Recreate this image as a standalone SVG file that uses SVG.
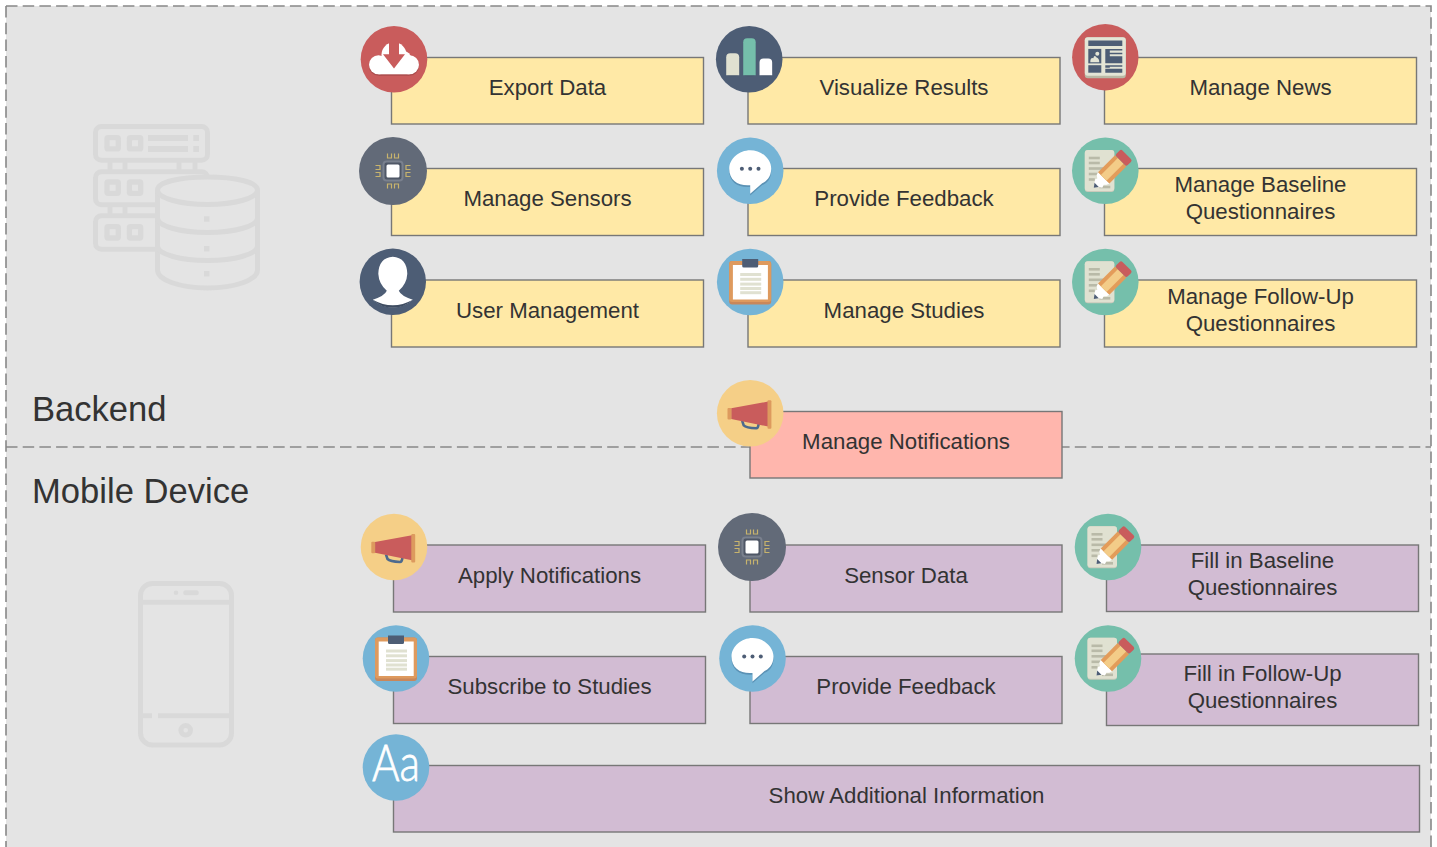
<svg xmlns="http://www.w3.org/2000/svg" xmlns:xlink="http://www.w3.org/1999/xlink" width="1437" height="847" viewBox="0 0 1437 847">
<style>
.box{stroke:#777;stroke-width:1.4}
.y{fill:#ffe9a6}.p{fill:#ffb6ad}.m{fill:#d2bcd3}
.t{font-family:"Liberation Sans",Arial,sans-serif;font-size:22.25px;fill:#333;text-anchor:middle}
.h{font-family:"Liberation Sans",Arial,sans-serif;font-size:34.6px;fill:#333}
.dash{fill:none;stroke:#888;stroke-width:1.6;stroke-dasharray:11.5 5.2}
.bg{fill:none;stroke:#d9d9d9;stroke-width:5;stroke-linejoin:round}
</style>
<defs>
<symbol id="i-cloud" overflow="visible" viewBox="-34 -34 68 68" width="68" height="68">
<circle r="33.3" fill="#c95c5c"/>
<g fill="#ab4d4d"><circle cx="-15.500" cy="7" r="9.500"/><circle cx="15.500" cy="7" r="9.500"/><rect x="-15" y="6" width="30" height="10.500"/></g>
<g fill="#fff"><circle cx="-15.500" cy="5.500" r="9.500"/><circle cx="15.500" cy="5.500" r="9.500"/><circle cx="0" cy="-4.500" r="12.500"/><circle cx="10" cy="-1" r="7"/><rect x="-15.500" y="0" width="31" height="15"/></g>
<path d="M-5 -19H5V-5H11L0 9.300L-11 -5H-5Z" fill="#c95c5c"/>
</symbol>
<symbol id="i-bars" overflow="visible" viewBox="-34 -34 68 68" width="68" height="68">
<circle r="33.3" fill="#4d5d75"/>
<rect x="-23" y="-6" width="13" height="23" rx="4" fill="#3f4d62" opacity=".6"/><rect x="-6" y="-20" width="12.500" height="37" rx="4" fill="#3f4d62" opacity=".6"/><rect x="10.500" y="0" width="13" height="17" rx="4" fill="#3f4d62" opacity=".6"/>
<path d="M-23 16V-2a4 4 0 0 1 4-4h5a4 4 0 0 1 4 4V16Z" fill="#e0e1d1"/>
<path d="M-6 16V-17a4 4 0 0 1 4-4h4.500a4 4 0 0 1 4 4V16Z" fill="#75bfab"/>
<path d="M10.300 16V3.300a4 4 0 0 1 4-4h4.700a4 4 0 0 1 4 4V16Z" fill="#fff"/>
</symbol>
<symbol id="i-news" overflow="visible" viewBox="-34 -34 68 68" width="68" height="68">
<circle r="33.2" fill="#c95c5c"/>
<rect x="-20.500" y="-20" width="41" height="41" rx="3" fill="#b9b9a6"/>
<rect x="-20.500" y="-20" width="41" height="38.500" rx="3" fill="#e4e5d6"/>
<rect x="-17" y="-16.700" width="34" height="5.500" fill="#4d5d75"/>
<rect x="-17" y="-8.300" width="13" height="14.500" fill="#4d5d75"/>
<path d="M-15 5Q-15 0 -12 1Q-11 -3 -9 0Q-6 1 -6 5Z" fill="#e4e5d6"/>
<circle cx="-8" cy="-3.500" r="2" fill="#e4e5d6"/>
<rect x="-17" y="8" width="13" height="7.500" fill="#4d5d75"/>
<path d="M0 -8.300H17V-6.800H4.500V-4.500H17V-3H4.500V-1H17V6H0ZM0 8H17V9.500H4.500V10.500H0ZM0 11.500H17V15.500H0Z" fill="#4d5d75"/>
</symbol>
<symbol id="i-chip" overflow="visible" viewBox="-34 -34 68 68" width="68" height="68">
<circle r="34" fill="#626a78"/>
<rect x="-9.500" y="-9.500" width="19" height="19" rx="3" fill="#4f5766" stroke="#7a818e" stroke-width="2"/>
<rect x="-6.500" y="-6.500" width="13" height="13" rx="1.500" fill="#fff"/>
<g fill="none" stroke="#c7b36d" stroke-width="1.200">
<path d="M-5.500 -17.500V-13H-1.500V-17.500M1.500 -17.500V-13H5.500V-17.500"/><path d="M-5.500 17.500V13H-1.500V17.500M1.500 17.500V13H5.500V17.500"/>
<path d="M-17.500 -5.500H-13V-1.500H-17.500M-17.500 1.500H-13V5.500H-17.500"/><path d="M17.500 -5.500H13V-1.500H17.500M17.500 1.500H13V5.500H17.500"/>
</g>
</symbol>
<symbol id="i-user" overflow="visible" viewBox="-34 -34 68 68" width="68" height="68">
<circle r="33.2" fill="#4d5d75"/>
<path d="M-20 18Q-8 14 -6 9Q-14 2 -14.500 -8Q-14 -24 0 -25Q14 -24 14.500 -8Q14 2 6 9Q8 14 20 18A30 30 0 0 1 -20 18Z" fill="#fff"/>
<path d="M-20 18Q0 29 20 18A29 29 0 0 1 0 26A29 29 0 0 1 -20 18Z" fill="#3f4d62"/>
</symbol>
<symbol id="i-chat" overflow="visible" viewBox="-34 -34 68 68" width="68" height="68">
<circle r="33.3" fill="#75b4d6"/>
<path d="M0 23.500V15C-12 16 -21 10 -21 -1C-21 -11 -11 -18.500 0 -18.500C11 -18.500 21 -11 21 -1C21 7 16 12 12 13Z" fill="#5b92b5" transform="translate(0 1.200)"/>
<path d="M0 23V14.500C-12 15.500 -21 9.500 -21 -2C-21 -12 -11 -20.500 0 -20.500C11 -20.500 21 -12 21 -2C21 6 16 11 12 12.500Z" fill="#fff"/>
<circle cx="-8.300" cy="-2" r="2" fill="#4d5d75"/><circle cx="0" cy="-2" r="2" fill="#4d5d75"/><circle cx="8.300" cy="-2" r="2" fill="#4d5d75"/>
</symbol>
<symbol id="i-clip" overflow="visible" viewBox="-34 -34 68 68" width="68" height="68">
<circle r="33.3" fill="#75b4d6"/>
<rect x="-21" y="-21" width="42" height="43.500" rx="3" fill="#c9875a"/>
<rect x="-21" y="-21" width="42" height="41" rx="3" fill="#de9a5e"/>
<rect x="-17.300" y="-17" width="35" height="34.500" fill="#fff"/>
<g fill="#e0e1d1"><rect x="-10" y="-9" width="21" height="3"/><rect x="-10" y="-4.200" width="21" height="3"/><rect x="-10" y="0.600" width="21" height="3"/><rect x="-10" y="5" width="21" height="3"/><rect x="-10" y="9.200" width="21" height="3"/></g>
<path d="M-8 -23H8V-16Q8 -14.500 6.500 -14.500H-6.500Q-8 -14.500 -8 -16Z" fill="#4d5d75"/>
</symbol>
<symbol id="i-note" overflow="visible" viewBox="-34 -34 68 68" width="68" height="68">
<circle r="33.3" fill="#75bfab"/>
<rect x="-20.500" y="-20.700" width="29.500" height="42" rx="3" fill="#c9cabb"/>
<rect x="-20.500" y="-20.700" width="29.500" height="41" rx="3" fill="#e0e1d1"/>
<g fill="#b9baa8"><rect x="-16.500" y="-14" width="11" height="2.600"/><rect x="-16.500" y="-9" width="11" height="2.600"/><rect x="-16.500" y="-3.500" width="15" height="2.600"/><rect x="-16.500" y="2" width="9" height="2.600"/><rect x="-16.500" y="7.500" width="6" height="2.600"/><rect x="-6" y="15" width="11" height="2.600"/></g>
<g transform="translate(-11.500 17) rotate(-45)">
<path d="M0 0L4 -3L7 -5L9 -4L11 -7L14 -8V8L11 7L9 5L6 6L4 3Z" fill="#fff"/>
<path d="M0 0L4 -3V3Z" fill="#4d5d75"/>
<rect x="14" y="-8" width="24" height="16" fill="#e39c5a"/>
<rect x="14" y="-4" width="24" height="8" fill="#f3cc88"/>
<rect x="38" y="-8" width="8.500" height="16" rx="2" fill="#c95c5c"/>
</g>
</symbol>
<symbol id="i-horn" overflow="visible" viewBox="-34 -34 68 68" width="68" height="68">
<circle r="33.3" fill="#f5cf87"/>
<path d="M-8 7.500L-6.500 12Q-4 14.500 6 15Q8 15 8.500 10" fill="none" stroke="#4d6a8e" stroke-width="2.600"/>
<path d="M-19 -5L18 -11.700V13.300L-19 5.700Z" fill="#c95c5c"/>
<rect x="-22.700" y="-5.200" width="3.900" height="11.400" rx="1" fill="#dd9a5e"/>
<rect x="17.300" y="-13" width="3.900" height="28.500" rx="1" fill="#dd9a5e"/>
</symbol>
<symbol id="i-aa" overflow="visible" viewBox="-34 -34 68 68" width="68" height="68">
<circle r="33.3" fill="#75b4d6"/>
<text x="0" y="13.500" text-anchor="middle" font-family="Lato,'Open Sans',sans-serif" font-weight="300" font-size="52" fill="#fff" stroke="#fff" stroke-width=".8" textLength="48" lengthAdjust="spacingAndGlyphs">Aa</text>
</symbol>
</defs>

<rect x="0" y="0" width="1437" height="847" fill="#fff"/>
<g id="frame">
<rect x="6" y="6" width="1425" height="860" fill="#e4e4e4"/>
<path class="dash" d="M6 6H1431V866M6 6V866"/>
<path class="dash" d="M6 447H1431"/>
<text class="h" x="32" y="421">Backend</text>
<text class="h" x="32" y="503">Mobile Device</text>
</g>

<g id="server-illustration" class="bg">
<rect x="95.500" y="126.500" width="112" height="33.700" rx="6"/>
<rect x="95.500" y="171.800" width="112" height="33" rx="6"/>
<rect x="95.500" y="215.800" width="112" height="33.400" rx="6"/>
<path d="M110 161V171M125 161V171M179 161V171M195 161V171M110 206V215M125 206V215"/>
<g stroke-width="5.300"><rect x="107" y="137.600" width="11.300" height="11.300" rx="1"/><rect x="129.400" y="137.600" width="11.300" height="11.300" rx="1"/><rect x="107" y="182" width="11.300" height="11.300" rx="1"/><rect x="129.400" y="182" width="11.300" height="11.300" rx="1"/><rect x="107" y="226.700" width="11.300" height="11.300" rx="1"/><rect x="129.400" y="226.700" width="11.300" height="11.300" rx="1"/></g>
<path d="M148 138H188M148 149H188M193.300 138H199M193.300 149H199" stroke-width="6" stroke-linejoin="miter"/>
<path d="M157.500 190V270C157.500 280 180 288 207.500 288S257.500 280 257.500 270V190C257.500 182 235 177 207.500 177S157.500 182 157.500 190Z" fill="#e4e4e4"/>
<path d="M157.500 190C157.500 198 180 204.500 207.500 204.500S257.500 198 257.500 190M157.500 218C157.500 226 180 232.500 207.500 232.500S257.500 226 257.500 218M157.500 246C157.500 254 180 260.500 207.500 260.500S257.500 254 257.500 246"/>
<path d="M204 219H209.500M204 248.700H209.500M204 273.700H209.500" stroke-width="5.500"/>
</g>
<g id="phone-illustration" class="bg">
<rect x="140.500" y="583.500" width="91" height="161.500" rx="12"/>
<path d="M140 602.300H232M140 715.700H152M158 715.700H232"/>
<path d="M185.700 592.700H196.300" stroke-linecap="round"/>
<circle cx="176" cy="592.700" r="2.300" fill="#d9d9d9" stroke="none"/>
<circle cx="185.700" cy="730.300" r="4.800"/>
</g>

<g id="export-data"><rect class="box y" x="391.500" y="57.500" width="312" height="66.500"/><text class="t" x="547.500" y="94.500">Export Data</text><use xlink:href="#i-cloud" href="#i-cloud" x="360" y="25.300"/></g>
<g id="visualize-results"><rect class="box y" x="748" y="57.500" width="312" height="66.500"/><text class="t" x="904" y="94.500">Visualize Results</text><use href="#i-bars" x="715.200" y="25.300"/></g>
<g id="manage-news"><rect class="box y" x="1104.500" y="57.500" width="312" height="66.500"/><text class="t" x="1260.500" y="94.500">Manage News</text><use href="#i-news" x="1071.300" y="23.200"/></g>
<g id="manage-sensors"><rect class="box y" x="391.500" y="168.500" width="312" height="67"/><text class="t" x="547.500" y="206">Manage Sensors</text><use href="#i-chip" x="359" y="137"/></g>
<g id="provide-feedback"><rect class="box y" x="748" y="168.500" width="312" height="67"/><text class="t" x="904" y="206">Provide Feedback</text><use href="#i-chat" x="716.200" y="136.700"/></g>
<g id="manage-baseline"><rect class="box y" x="1104.500" y="168.500" width="312" height="67"/><text class="t" x="1260.500" y="192">Manage Baseline</text><text class="t" x="1260.500" y="219">Questionnaires</text><use href="#i-note" x="1071.300" y="136.700"/></g>
<g id="user-management"><rect class="box y" x="391.500" y="280" width="312" height="67"/><text class="t" x="547.500" y="317.500">User Management</text><use href="#i-user" x="358.800" y="247.800"/></g>
<g id="manage-studies"><rect class="box y" x="748" y="280" width="312" height="67"/><text class="t" x="904" y="317.500">Manage Studies</text><use href="#i-clip" x="716.200" y="248"/></g>
<g id="manage-followup"><rect class="box y" x="1104.500" y="280" width="312" height="67"/><text class="t" x="1260.500" y="304">Manage Follow-Up</text><text class="t" x="1260.500" y="331">Questionnaires</text><use href="#i-note" x="1071.300" y="248"/></g>
<g id="manage-notifications"><rect class="box p" x="750" y="411.500" width="312" height="66.500"/><text class="t" x="906" y="448.500">Manage Notifications</text><use href="#i-horn" x="716.200" y="379.300"/></g>
<g id="apply-notifications"><rect class="box m" x="393.500" y="545" width="312" height="67"/><text class="t" x="549.500" y="582.500">Apply Notifications</text><use href="#i-horn" x="360" y="513"/></g>
<g id="sensor-data"><rect class="box m" x="750" y="545" width="312" height="67"/><text class="t" x="906" y="582.500">Sensor Data</text><use href="#i-chip" x="718" y="513"/></g>
<g id="fill-baseline"><rect class="box m" x="1106.500" y="545" width="312" height="66.500"/><text class="t" x="1262.500" y="568">Fill in Baseline</text><text class="t" x="1262.500" y="595">Questionnaires</text><use href="#i-note" x="1074" y="513"/></g>
<g id="subscribe-studies"><rect class="box m" x="393.500" y="656.500" width="312" height="67"/><text class="t" x="549.500" y="693.500">Subscribe to Studies</text><use href="#i-clip" x="362" y="624.500"/></g>
<g id="provide-feedback-mobile"><rect class="box m" x="750" y="656.500" width="312" height="67"/><text class="t" x="906" y="693.500">Provide Feedback</text><use href="#i-chat" x="718.500" y="624.500"/></g>
<g id="fill-followup"><rect class="box m" x="1106.500" y="654" width="312" height="71.500"/><text class="t" x="1262.500" y="681">Fill in Follow-Up</text><text class="t" x="1262.500" y="708">Questionnaires</text><use href="#i-note" x="1074" y="624.500"/></g>
<g id="show-info"><rect class="box m" x="393.500" y="765.500" width="1026" height="66.500"/><text class="t" x="906.500" y="802.500">Show Additional Information</text><use href="#i-aa" x="362" y="733.500"/></g>
</svg>
